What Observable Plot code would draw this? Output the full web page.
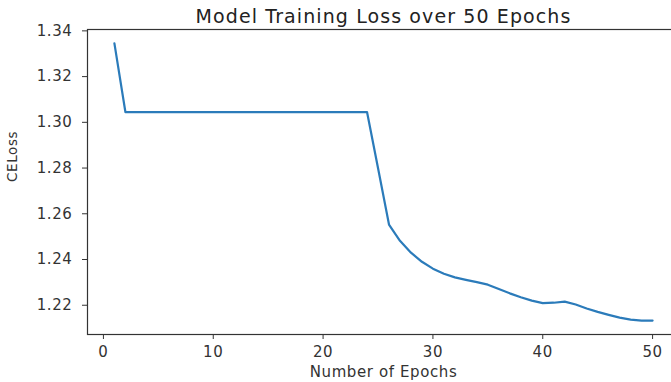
<!DOCTYPE html>
<html>
<head>
<meta charset="utf-8">
<script src="https://cdn.jsdelivr.net/npm/d3@7"></script>
<script src="https://cdn.jsdelivr.net/npm/@observablehq/plot@0.6"></script>
<style>
  html, body { margin: 0; padding: 0; background: #fff; }
  #chart svg { display: block; }
</style>
</head>
<body>
<div id="chart"></div>
<script>
const titleText = "Model Training Loss over 50 Epochs";
const xLabel = "Number of Epochs";
const yLabel = "CELoss";

const epochs = [1,2,3,4,5,6,7,8,9,10,11,12,13,14,15,16,17,18,19,20,21,22,23,24,25,
                26,27,28,29,30,31,32,33,34,35,36,37,38,39,40,41,42,43,44,45,46,47,48,49,50];
const loss = [1.3345,1.3045,1.3045,1.3045,1.3045,1.3045,1.3045,1.3045,1.3045,1.3045,
              1.3045,1.3045,1.3045,1.3045,1.3045,1.3045,1.3045,1.3045,1.3045,1.3045,
              1.3045,1.3045,1.3045,1.3045,1.2800,1.2553,1.2482,1.2430,1.2390,1.2360,
              1.2338,1.2322,1.2311,1.2301,1.2290,1.2271,1.2252,1.2235,1.2220,1.2209,
              1.2211,1.2216,1.2203,1.2186,1.2171,1.2158,1.2146,1.2137,1.2133,1.2133];

const xTicks = [0, 10, 20, 30, 40, 50];
const yTicks = [1.22, 1.24, 1.26, 1.28, 1.30, 1.32, 1.34];

const data = epochs.map((e, i) => ({epoch: e, loss: loss[i]}));

const font = "'DejaVu Sans', sans-serif";

const chart = Plot.plot({
  width: 671,
  height: 382,
  marginTop: 29,
  marginBottom: 48,
  marginLeft: 87,
  marginRight: -8,
  style: {fontFamily: font, fontSize: "15px", color: "#333", background: "#fff", overflow: "hidden"},
  x: {domain: [-1.45, 52.45], ticks: xTicks, tickFormat: d => String(d), label: null, tickSize: 5, tickPadding: 7},
  y: {domain: [1.2072, 1.3406], ticks: yTicks, tickFormat: d3.format(".2f"), label: null, tickSize: 5, tickPadding: 10},
  marks: [
    Plot.line(data, {x: "epoch", y: "loss", stroke: "#2b7bba", strokeWidth: 2.2, strokeLinejoin: "round"}),
    Plot.frame({stroke: "#333", strokeWidth: 1.2}),
    Plot.text([titleText], {frameAnchor: "top", dy: -7, lineAnchor: "bottom", fontSize: 19, fill: "#222", text: d => d, className: "ttl"}),
    Plot.text([xLabel], {frameAnchor: "bottom", dy: 42, lineAnchor: "bottom", fontSize: 15, fill: "#333", text: d => d}),
    Plot.text([yLabel], {frameAnchor: "left", dx: -75, rotate: -90, fontSize: 13.5, fill: "#333", text: d => d})
  ]
});
chart.querySelectorAll("text").forEach(t => t.style.letterSpacing = "0.6px");
chart.querySelectorAll(".ttl text").forEach(t => t.style.letterSpacing = "1.1px");
document.getElementById("chart").appendChild(chart);
</script>
</body>
</html>
